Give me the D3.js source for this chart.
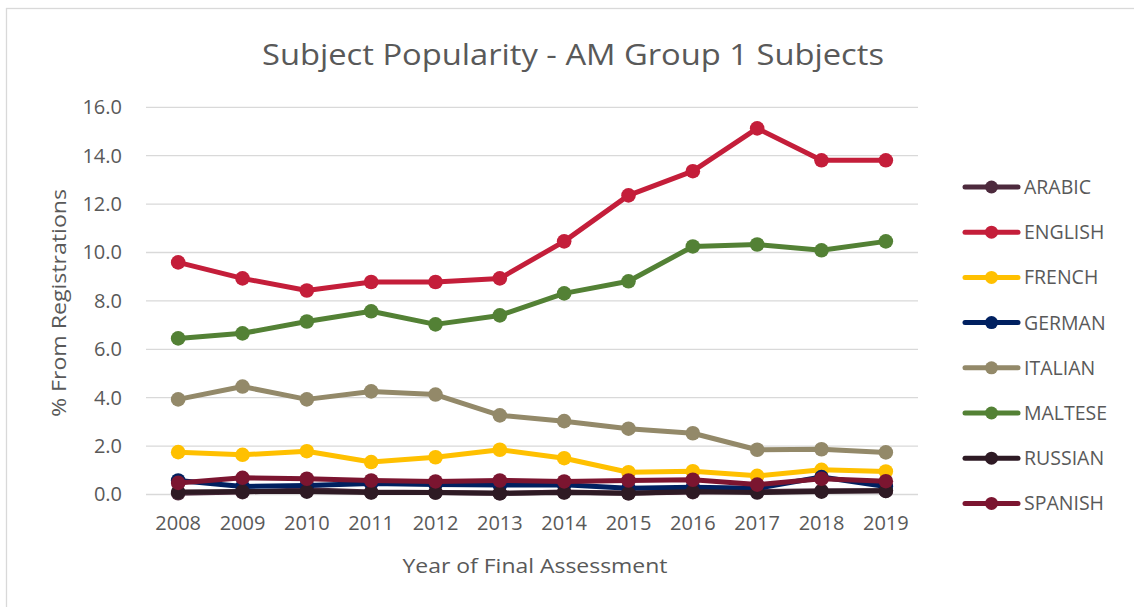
<!DOCTYPE html>
<head>
  <meta charset="utf-8">
  <script src="https://d3js.org/d3.v7.min.js"></script>
  <style>
    body { margin: 0; background: #fff; font-family: "Open Sans", sans-serif; }
    text { fill: #595959; }
    .grid line { stroke: #d9d9d9; stroke-width: 1.3; }
    .axis path, .axis line { display: none; }
  </style>
</head>
<body>
  <svg id="chart" width="1134" height="607"></svg>
  <script>
    const years = [2008, 2009, 2010, 2011, 2012, 2013, 2014, 2015, 2016, 2017, 2018, 2019];
    const subjects = ["ARABIC", "ENGLISH", "FRENCH", "GERMAN", "ITALIAN", "MALTESE", "RUSSIAN", "SPANISH"];
    const colors = ["#4d2a3d", "#c41e3a", "#ffc000", "#002060", "#938969", "#538135", "#2e1a24", "#7b1530"];
    const yTicks = [0, 2, 4, 6, 8, 10, 12, 14, 16];

    const arabic  = [0.05, 0.10, 0.20, 0.10, 0.08, 0.05, 0.10, 0.05, 0.10, 0.12, 0.15, 0.15];
    const english = [9.59, 8.93, 8.43, 8.78, 8.78, 8.93, 10.46, 12.36, 13.36, 15.13, 13.81, 13.81];
    const french  = [1.75, 1.64, 1.79, 1.34, 1.54, 1.85, 1.50, 0.92, 0.96, 0.77, 1.02, 0.95];
    const german  = [0.58, 0.33, 0.37, 0.45, 0.41, 0.39, 0.40, 0.26, 0.30, 0.26, 0.72, 0.33];
    const italian = [3.93, 4.46, 3.93, 4.26, 4.13, 3.27, 3.03, 2.72, 2.53, 1.85, 1.87, 1.74];
    const maltese = [6.45, 6.66, 7.15, 7.57, 7.03, 7.40, 8.31, 8.81, 10.25, 10.33, 10.09, 10.46];
    const russian = [0.10, 0.12, 0.12, 0.08, 0.08, 0.05, 0.08, 0.05, 0.12, 0.08, 0.12, 0.15];
    const spanish = [0.48, 0.69, 0.65, 0.58, 0.54, 0.58, 0.54, 0.58, 0.61, 0.41, 0.65, 0.55];

    const seriesValues = [arabic, english, french, german, italian, maltese, russian, spanish];

    const svg = d3.select("#chart");

    // chart border
    svg.append("rect")
      .attr("x", 6.5).attr("y", 8.5)
      .attr("width", 1140).attr("height", 610)
      .attr("fill", "none").attr("stroke", "#d9d9d9").attr("stroke-width", 1.3);

    const x = d3.scaleBand().domain(years).range([146, 918]);
    const y = d3.scaleLinear().domain([0, 16]).range([494.5, 107.3]);

    // gridlines
    svg.append("g").attr("class", "grid")
      .selectAll("line").data(yTicks).enter().append("line")
      .attr("x1", 146).attr("x2", 918)
      .attr("y1", d => y(d)).attr("y2", d => y(d));

    // y axis
    svg.append("g").attr("class", "axis")
      .attr("transform", "translate(130,0)")
      .call(d3.axisLeft(y).tickValues(yTicks).tickFormat(d3.format(".1f")).tickSize(0).tickPadding(8))
      .selectAll("text").style("font-size", "20px").attr("font-family", "Open Sans").attr("fill", "#595959");

    // x axis
    svg.append("g").attr("class", "axis")
      .attr("transform", "translate(0,508)")
      .call(d3.axisBottom(x).tickSize(0).tickPadding(8))
      .selectAll("text").style("font-size", "20px").attr("font-family", "Open Sans").attr("fill", "#595959");

    // title
    svg.append("text")
      .attr("x", 573).attr("y", 65)
      .attr("text-anchor", "middle")
      .style("font-size", "29px")
      .attr("textLength", 622).attr("lengthAdjust", "spacingAndGlyphs")
      .text("Subject Popularity - AM Group 1 Subjects");

    svg.append("text")
      .attr("x", 535).attr("y", 573)
      .attr("text-anchor", "middle")
      .style("font-size", "20px")
      .attr("textLength", 265).attr("lengthAdjust", "spacingAndGlyphs")
      .text("Year of Final Assessment");

    svg.append("text")
      .attr("transform", "translate(66,303) rotate(-90)")
      .attr("text-anchor", "middle")
      .style("font-size", "20px")
      .attr("textLength", 228).attr("lengthAdjust", "spacingAndGlyphs")
      .text("% From Registrations");

    const line = d3.line()
      .x((d, i) => x(years[i]) + x.bandwidth() / 2)
      .y(d => y(d));

    const series = svg.append("g").selectAll("g")
      .data(seriesValues).enter().append("g");

    series.append("path")
      .attr("d", d => line(d))
      .attr("fill", "none")
      .attr("stroke", (d, i) => colors[i])
      .attr("stroke-width", 5)
      .attr("stroke-linejoin", "round");

    series.each(function (vals, si) {
      d3.select(this).selectAll("circle").data(vals).enter().append("circle")
        .attr("cx", (d, i) => x(years[i]) + x.bandwidth() / 2)
        .attr("cy", d => y(d))
        .attr("r", 7.3)
        .attr("fill", colors[si]);
    });

    // legend
    const legend = svg.append("g").selectAll("g")
      .data(subjects).enter().append("g")
      .attr("transform", (d, i) => `translate(0,${187 + i * 45.2})`);

    legend.append("line")
      .attr("x1", 965).attr("x2", 1018)
      .attr("stroke", (d, i) => colors[i])
      .attr("stroke-width", 5).attr("stroke-linecap", "round");
    legend.append("circle")
      .attr("cx", 991.5).attr("r", 6.5)
      .attr("fill", (d, i) => colors[i]);
    legend.append("text")
      .attr("x", 1024).attr("dy", "0.36em")
      .style("font-size", "19.5px")
      .text(d => d);
  </script>
</body>
